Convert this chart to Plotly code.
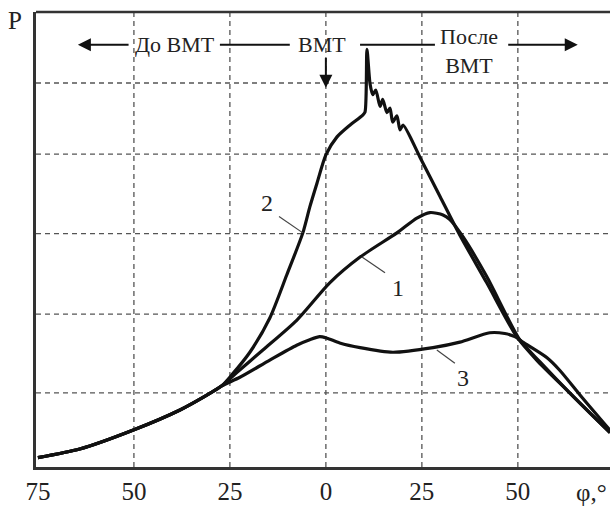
import plotly.graph_objects as go

# crank angle, degrees (negative = before TDC), shared low part of all curves
phi_common = [-75.0, -64.1, -50.3, -38.0, -31.0, -27.1]
p_common = [0.12, 0.23, 0.47, 0.73, 0.92, 1.04]

# curve 2 (knocking, with the spike)
phi_2 = [-24.5, -19.8, -14.6, -10.2, -6.0, -4.2, -2.3, 0.0, 2.9, 6.25, 9.6, 10.2,
         10.7, 11.5, 12.2, 13.0, 14.1, 14.8, 15.9, 16.7, 17.4, 18.5, 19.3, 20.1,
         24.5, 29.7, 34.9, 41.9, 49.7, 54.9, 63.5, 68.8, 74.0]
p_2 = [1.18, 1.47, 1.91, 2.46, 3.00, 3.33, 3.64, 4.00, 4.23, 4.38, 4.51, 4.55,
       5.35, 4.91, 4.77, 4.83, 4.62, 4.71, 4.54, 4.60, 4.42, 4.50, 4.32, 4.38,
       3.97, 3.47, 2.97, 2.36, 1.67, 1.37, 0.95, 0.69, 0.44]

# curve 1
phi_1 = [-23.2, -16.4, -7.6, 1.0, 8.9, 18.5, 23.7, 27.1, 30.5, 32.3, 35.7, 41.9,
         50.5, 55.7, 63.5, 74.0]
p_1 = [1.21, 1.50, 1.88, 2.36, 2.69, 3.00, 3.19, 3.26, 3.23, 3.17, 2.95, 2.44,
       1.63, 1.35, 0.95, 0.44]

# curve 3
phi_3 = [-22.4, -14.6, -7.6, -4.2, -1.6, 0.3, 3.6, 8.9, 17.4, 27.9, 34.9, 42.7,
         46.6, 49.2, 51.3, 57.6, 60.9, 66.9, 74.0]
p_3 = [1.15, 1.37, 1.56, 1.63, 1.67, 1.65, 1.59, 1.53, 1.47, 1.53, 1.60, 1.72,
       1.71, 1.67, 1.60, 1.40, 1.24, 0.88, 0.47]

x_ticks = [-75, -50, -25, 0, 25, 50]
x_tick_text = ["75", "50", "25", "0", "25", "50"]
x_grid = [-50, -25, 0, 25, 50]
y_grid = [0.95, 1.96, 2.99, 4.01, 4.92]

# curve labels: text, label position, leader line (from -> to)
curve_labels = [
    ("2", -15.4, 3.38, -12.2, 3.21, -6.0, 3.00),
    ("1", 18.8, 2.29, 9.4, 2.69, 15.4, 2.49),
    ("3", 35.7, 1.14, 28.9, 1.50, 33.6, 1.33),
]

FONT = "Liberation Serif"
INK = "#111111"
GRID = "#555555"
TXT = "#222222"

fig = go.Figure()

for phi, p in [(phi_2, p_2), (phi_1, p_1), (phi_3, p_3)]:
    fig.add_trace(go.Scatter(
        x=phi_common + phi, y=p_common + p,
        mode="lines", line=dict(color=INK, width=3.2, shape="spline", smoothing=0.7),
        hoverinfo="skip", showlegend=False,
    ))

# dashed grid drawn as shapes so the axis frame stays solid
for gx in x_grid:
    fig.add_shape(type="line", x0=gx, x1=gx, y0=0, y1=1, xref="x", yref="paper",
                  line=dict(color=GRID, width=1.3, dash="5px,4px"), layer="below")
for gy in y_grid:
    fig.add_shape(type="line", x0=0, x1=1, y0=gy, y1=gy, xref="paper", yref="y",
                  line=dict(color=GRID, width=1.3, dash="5px,4px"), layer="below")

# top frame line
fig.add_shape(type="line", x0=0, x1=1, y0=1, y1=1, xref="paper", yref="paper",
              line=dict(color="#333333", width=2.5))

for txt, lx, ly, x0, y0, x1, y1 in curve_labels:
    fig.add_shape(type="line", x0=x0, y0=y0, x1=x1, y1=y1,
                  line=dict(color="#444444", width=1.2))
    fig.add_annotation(x=lx, y=ly, text=txt, showarrow=False,
                       font=dict(family=FONT, size=24, color=TXT))

# TDC labels and arrows
top_y = 5.41
fig.add_annotation(x=-39.3, y=top_y, text="До ВМТ", showarrow=False,
                   font=dict(family=FONT, size=22, color=TXT))
fig.add_annotation(x=-1.0, y=top_y, text="ВМТ", showarrow=False,
                   font=dict(family=FONT, size=22, color=TXT))
fig.add_annotation(x=37.2, y=5.33, text="После<br>ВМТ", showarrow=False,
                   font=dict(family=FONT, size=22, color=TXT))

for x0, x1 in [(-27.6, -9.4), (8.9, 28.4)]:
    fig.add_shape(type="line", x0=x0, x1=x1, y0=top_y, y1=top_y,
                  line=dict(color=INK, width=2))

for tip_x, tip_y, tail_x, tail_y in [(-64.6, top_y, -51.0, top_y),
                                     (65.6, top_y, 47.1, top_y),
                                     (0.0, 4.86, 0.0, 5.26)]:
    fig.add_annotation(x=tip_x, y=tip_y, ax=tail_x, ay=tail_y,
                       xref="x", yref="y", axref="x", ayref="y",
                       text="", showarrow=True, arrowhead=2,
                       arrowsize=1.3, arrowwidth=2, arrowcolor=INK)

fig.add_annotation(x=-0.037, y=0.982, xref="paper", yref="paper", text="P",
                   xanchor="center", yanchor="middle", showarrow=False,
                   font=dict(family=FONT, size=25, color=TXT))
fig.add_annotation(x=0.967, y=-0.057, xref="paper", yref="paper", text="φ,°",
                   xanchor="center", yanchor="middle", showarrow=False,
                   font=dict(family=FONT, size=25, color=TXT))

fig.update_xaxes(range=[-75.5, 74], tickvals=x_ticks, ticktext=x_tick_text,
                 showgrid=False, zeroline=False, showline=True, linecolor="#333333",
                 linewidth=2.5, ticks="",
                 tickfont=dict(family=FONT, size=25, color=TXT))
fig.update_yaxes(range=[0, 5.83], showgrid=False, zeroline=False, showline=True,
                 linecolor="#333333", linewidth=2.5, showticklabels=False, ticks="")

fig.update_layout(
    width=610, height=506,
    margin=dict(l=36, r=0, t=12, b=39),
    plot_bgcolor="white", paper_bgcolor="white",
    showlegend=False,
)

# the page's default body margin would shift the figure out of the window
fig.write_html("out.html", config={"displayModeBar": False},
               post_script="document.body.style.margin='0';")
